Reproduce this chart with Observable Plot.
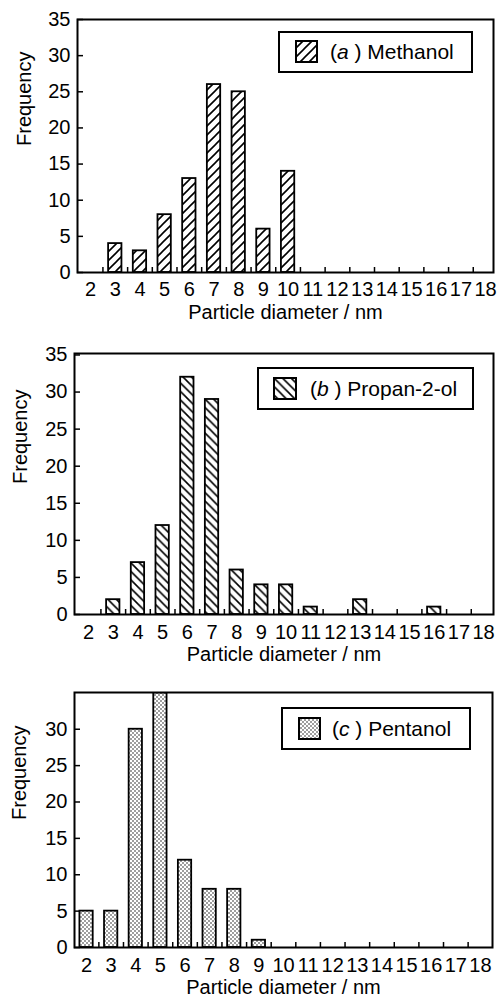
<!DOCTYPE html>
<html>
<head>
<meta charset="utf-8">
<script src="https://cdn.jsdelivr.net/npm/d3@7"></script>
<script src="https://cdn.jsdelivr.net/npm/@observablehq/plot@0.6"></script>
<style>
  html, body { margin: 0; padding: 0; background: #fff; }
  #wrap { position: relative; width: 497px; height: 1000px; overflow: hidden; font-family: 'Liberation Sans', Arial, sans-serif; }
  .panel { position: absolute; left: 0; }
  .legend { position: absolute; border: 2px solid #000; background: #fff; box-sizing: border-box; }
  .legend svg { position: absolute; }
  .legend span { position: absolute; font-size: 21px; line-height: 21px; white-space: pre; color: #000; }
</style>
</head>
<body>
<svg width="0" height="0" style="position:absolute">
  <defs>
    <pattern id="hatchA" patternUnits="userSpaceOnUse" width="9" height="9">
      <rect width="9" height="9" fill="#fff"/>
      <path d="M-1,1 L1,-1 M0,9 L9,0 M8,10 L10,8" stroke="#000" stroke-width="1.6"/>
    </pattern>
    <pattern id="hatchB" patternUnits="userSpaceOnUse" width="8.5" height="8.5">
      <rect width="8.5" height="8.5" fill="#fff"/>
      <path d="M-1,7.5 L1,9.5 M0,0 L8.5,8.5 M7.5,-1 L9.5,1" stroke="#000" stroke-width="1.6"/>
    </pattern>
    <pattern id="dots" patternUnits="userSpaceOnUse" width="4" height="4">
      <rect width="4" height="4" fill="#fff"/>
      <circle cx="1" cy="1" r="0.8" fill="#222"/>
      <circle cx="3" cy="3" r="0.8" fill="#222"/>
    </pattern>
  </defs>
</svg>
<div id="wrap"></div>
<script>
// ---- data ----
const methanolDiameter = [3, 4, 5, 6, 7, 8, 9, 10];
const methanolFrequency = [4, 3, 8, 13, 26, 25, 6, 14];
const propanolDiameter = [3, 4, 5, 6, 7, 8, 9, 10, 11, 13, 16];
const propanolFrequency = [2, 7, 12, 32, 29, 6, 4, 4, 1, 2, 1];
const pentanolDiameter = [2, 3, 4, 5, 6, 7, 8, 9];
const pentanolFrequency = [5, 5, 30, 35, 12, 8, 8, 1];
const xTickLabels = [2, 3, 4, 5, 6, 7, 8, 9, 10, 11, 12, 13, 14, 15, 16, 17, 18];
const xMinorTicks = [2.5, 3.5, 4.5, 5.5, 6.5, 7.5, 8.5, 9.5, 10.5, 11.5, 12.5, 13.5, 14.5, 15.5, 16.5, 17.5];
const yTicksFull = [0, 5, 10, 15, 20, 25, 30, 35];
const yTicksC = [0, 5, 10, 15, 20, 25, 30];
const xLabel = "Particle diameter / nm";
const yLabel = "Frequency";

const W = 497;
const FONT = "'Liberation Sans', Arial, sans-serif";
const wrap = document.getElementById("wrap");

function panel(cfg) {
  const data = cfg.d.map((x, i) => ({x, f: cfg.f[i]}));
  const pw = W - cfg.ml - cfg.mr;
  const ph = cfg.height - cfg.mt - cfg.mb;
  const chart = Plot.plot({
    width: W,
    height: cfg.height,
    marginTop: cfg.mt, marginBottom: cfg.mb, marginLeft: cfg.ml, marginRight: cfg.mr,
    style: {fontFamily: FONT, fontSize: "20px", color: "#000", background: "transparent", overflow: "visible"},
    x: {domain: cfg.xdom},
    y: {domain: cfg.ydom},
    marks: [
      Plot.rectY(data, {x1: d => d.x - 0.27, x2: d => d.x + 0.27, y1: 0, y2: "f", fill: cfg.fill, stroke: "#000", strokeWidth: 1.8, clip: true}),
      Plot.tickX(xMinorTicks, {x: d => d, insetTop: ph - 5, stroke: "#000", strokeWidth: 1.5}),
      Plot.tickY(cfg.yticks, {y: d => d, insetRight: pw - 6, stroke: "#000", strokeWidth: 1.5}),
      Plot.axisX(xTickLabels, {tickSize: 0, tickPadding: cfg.tp, label: null, fill: "#000", fontSize: 20}),
      Plot.axisY(cfg.yticks, {tickSize: 0, tickPadding: 7, label: null, fill: "#000", fontSize: 20}),
      Plot.frame({stroke: "#000", strokeWidth: 2}),
      Plot.text([xLabel], {text: d => d, frameAnchor: "bottom", dy: cfg.xl, fontSize: 20, fill: "#000"}),
      Plot.text([yLabel], {text: d => d, frameAnchor: "left", rotate: -90, dx: cfg.yl, fontSize: 20, fill: "#000"})
    ]
  });
  const holder = document.createElement("div");
  holder.className = "panel";
  holder.style.top = cfg.top + "px";
  holder.appendChild(chart);
  wrap.appendChild(holder);

  const lg = document.createElement("div");
  lg.className = "legend";
  const L = cfg.legend;
  lg.style.left = L.x + "px"; lg.style.top = L.y + "px";
  lg.style.width = L.w + "px"; lg.style.height = L.h + "px";
  lg.innerHTML =
    `<svg width="24" height="24" style="left:${L.sx}px;top:${L.sy}px"><rect x="1" y="1" width="${L.sw}" height="21" fill="${cfg.fill}" stroke="#000" stroke-width="2"/></svg>` +
    `<span style="left:${L.tx}px;top:${L.ty}px">(<i>${L.letter}</i> ) ${L.name}</span>`;
  wrap.appendChild(lg);
}

panel({
  d: methanolDiameter, f: methanolFrequency, fill: "url(#hatchA)",
  top: 0, height: 330, mt: 19, mb: 58, ml: 77, mr: 4,
  xdom: [1.47, 18.32], ydom: [0, 35], yticks: yTicksFull, tp: 9, xl: 46, yl: -53,
  legend: {x: 278, y: 31, w: 195, h: 42, sx: 15, sy: 7, sw: 21, tx: 50, ty: 8, letter: "a", name: "Methanol"}
});
panel({
  d: propanolDiameter, f: propanolFrequency, fill: "url(#hatchB)",
  top: 330, height: 330, mt: 23, mb: 46, ml: 74, mr: 4,
  xdom: [1.43, 18.4], ydom: [0, 35.2], yticks: yTicksFull, tp: 10, xl: 46, yl: -54,
  legend: {x: 257, y: 367, w: 217, h: 43, sx: 14, sy: 8, sw: 22, tx: 51, ty: 9, letter: "b", name: "Propan-2-ol"}
});
panel({
  d: pentanolDiameter, f: pentanolFrequency, fill: "url(#dots)",
  top: 660, height: 340, mt: 32, mb: 53, ml: 74, mr: 5,
  xdom: [1.51, 18.49], ydom: [0, 35.05], yticks: yTicksC, tp: 10, xl: 46, yl: -55,
  legend: {x: 281, y: 707, w: 190, h: 43, sx: 15, sy: 8, sw: 21, tx: 49, ty: 9, letter: "c", name: "Pentanol"}
});
</script>
</body>
</html>
